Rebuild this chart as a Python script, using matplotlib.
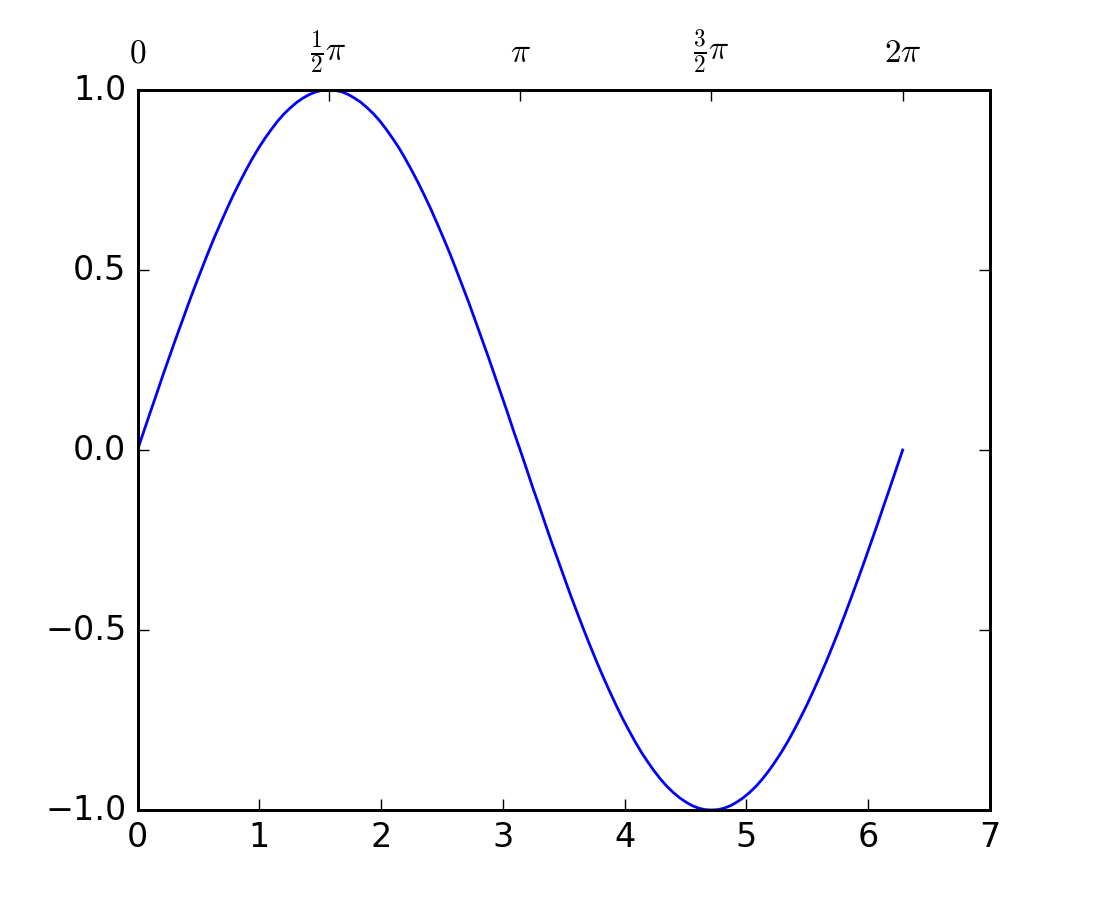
import numpy as np
import matplotlib
matplotlib.use('Agg')
import matplotlib.pyplot as plt
from matplotlib.transforms import ScaledTranslation

# values (one period of the curve)
x_vals = [0.000, 0.052, 0.105, 0.157, 0.209, 0.262, 0.314, 0.367, 0.419, 0.471,
          0.524, 0.576, 0.628, 0.681, 0.733, 0.785, 0.838, 0.890, 0.942, 0.995,
          1.047, 1.100, 1.152, 1.204, 1.257, 1.309, 1.361, 1.414, 1.466, 1.518,
          1.571, 1.623, 1.676, 1.728, 1.780, 1.833, 1.885, 1.937, 1.990, 2.042,
          2.094, 2.147, 2.199, 2.251, 2.304, 2.356, 2.409, 2.461, 2.513, 2.566,
          2.618, 2.670, 2.723, 2.775, 2.827, 2.880, 2.932, 2.985, 3.037, 3.089,
          3.142, 3.194, 3.246, 3.299, 3.351, 3.403, 3.456, 3.508, 3.560, 3.613,
          3.665, 3.718, 3.770, 3.822, 3.875, 3.927, 3.979, 4.032, 4.084, 4.136,
          4.189, 4.241, 4.294, 4.346, 4.398, 4.451, 4.503, 4.555, 4.608, 4.660,
          4.712, 4.765, 4.817, 4.869, 4.922, 4.974, 5.027, 5.079, 5.131, 5.184,
          5.236, 5.288, 5.341, 5.393, 5.445, 5.498, 5.550, 5.603, 5.655, 5.707,
          5.760, 5.812, 5.864, 5.917, 5.969, 6.021, 6.074, 6.126, 6.178, 6.231,
          6.283]
y_vals = [0.000, 0.052, 0.105, 0.156, 0.208, 0.259, 0.309, 0.358, 0.407, 0.454,
          0.500, 0.545, 0.588, 0.629, 0.669, 0.707, 0.743, 0.777, 0.809, 0.839,
          0.866, 0.891, 0.914, 0.934, 0.951, 0.966, 0.978, 0.988, 0.995, 0.999,
          1.000, 0.999, 0.995, 0.988, 0.978, 0.966, 0.951, 0.934, 0.914, 0.891,
          0.866, 0.839, 0.809, 0.777, 0.743, 0.707, 0.669, 0.629, 0.588, 0.545,
          0.500, 0.454, 0.407, 0.358, 0.309, 0.259, 0.208, 0.156, 0.105, 0.052,
          0.000, -0.052, -0.105, -0.156, -0.208, -0.259, -0.309, -0.358, -0.407, -0.454,
          -0.500, -0.545, -0.588, -0.629, -0.669, -0.707, -0.743, -0.777, -0.809, -0.839,
          -0.866, -0.891, -0.914, -0.934, -0.951, -0.966, -0.978, -0.988, -0.995, -0.999,
          -1.000, -0.999, -0.995, -0.988, -0.978, -0.966, -0.951, -0.934, -0.914, -0.891,
          -0.866, -0.839, -0.809, -0.777, -0.743, -0.707, -0.669, -0.629, -0.588, -0.545,
          -0.500, -0.454, -0.407, -0.358, -0.309, -0.259, -0.208, -0.156, -0.105, -0.052,
          0.000]

top_ticks = [0, np.pi / 2, np.pi, 3 * np.pi / 2, 2 * np.pi]
top_labels = [r'$0$', r'$\frac{1}{2}\pi$', r'$\pi$', r'$\frac{3}{2}\pi$', r'$2\pi$']

plt.style.use('classic')
plt.rcParams['mathtext.fontset'] = 'cm'

DPI = 200
fig = plt.figure(figsize=(1100 / DPI, 900 / DPI), dpi=DPI, facecolor='white')
ax1 = fig.add_subplot(111)
ax1.plot(x_vals, y_vals, color='b')

ax2 = ax1.twiny()
ax2.set_xlim(ax1.get_xlim())
ax2.set_xticks(top_ticks)
ax2.set_xticklabels(top_labels)
ax2.tick_params(axis='x', pad=5)

# labels without a fraction sit a bit higher in the original
lift = ScaledTranslation(0, 2.5 / 72, fig.dpi_scale_trans)
for tick, lab in zip(ax2.xaxis.get_major_ticks(), top_labels):
    if 'frac' not in lab:
        tick.label2.set_transform(tick.label2.get_transform() + lift)

fig.savefig('out.png', dpi=DPI, facecolor='white')
